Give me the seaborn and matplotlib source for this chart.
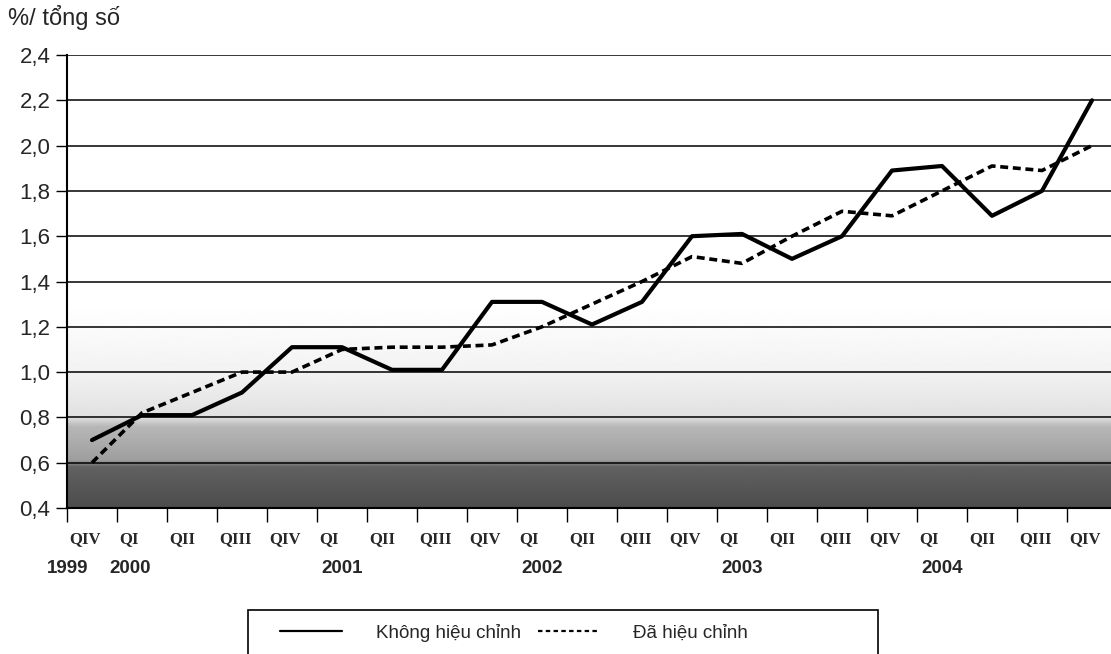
import numpy as np
import pandas as pd
import seaborn as sns
import matplotlib.pyplot as plt
from matplotlib.patches import Rectangle
from matplotlib.lines import Line2D

# Data (quarters QIV 1999 .. QIV 2004)
quarters = ["QIV", "QI", "QII", "QIII"] * 5 + ["QIV"]
years = ["1999", "2000", "2001", "2002", "2003", "2004"]
year_idx = [0, 1, 5, 9, 13, 17]
unadjusted = [0.70, 0.81, 0.81, 0.91, 1.11, 1.11, 1.01, 1.01, 1.31, 1.31, 1.21,
              1.31, 1.60, 1.61, 1.50, 1.60, 1.89, 1.91, 1.69, 1.80, 2.20]
adjusted = [0.60, 0.82, 0.91, 1.00, 1.00, 1.10, 1.11, 1.11, 1.12, 1.20, 1.30,
            1.40, 1.51, 1.48, 1.60, 1.71, 1.69, 1.80, 1.91, 1.89, 2.00]
label_a = "Không hiệu chỉnh"
label_b = "Đã hiệu chỉnh"

df = pd.DataFrame({"x": range(len(quarters)), "a": unadjusted, "b": adjusted})

sns.set_theme(style="white")
plt.rcParams['font.family'] = ['Liberation Sans', 'DejaVu Sans']

fig = plt.figure(figsize=(11.11, 6.54), dpi=100)
ax = fig.add_axes([67 / 1111, 146 / 654, 1050 / 1111, 453 / 654])

# scanned grey band at the bottom of the plot area
gy = np.linspace(0.4, 1.3, 300)
shade = np.interp(gy, [0.4, 0.58, 0.61, 0.76, 0.80, 1.0, 1.3],
                  [0.30, 0.38, 0.62, 0.72, 0.88, 0.95, 1.0])
ax.imshow(shade[:, None], cmap="gray", vmin=0, vmax=1, origin="lower",
          extent=(-0.5, 20.5, 0.4, 1.3), aspect="auto", zorder=0)

for yv in np.arange(0.4, 2.41, 0.2):
    ax.axhline(yv, color="black", lw=1.1, zorder=1)

sns.lineplot(data=df, x="x", y="a", color="black", lw=3.0, ax=ax, zorder=3)
sns.lineplot(data=df, x="x", y="b", color="black", lw=2.6, ax=ax, zorder=3,
             linestyle=(0, (2.2, 1.3)))

ax.set_xlim(-0.5, 20.5)
ax.set_ylim(0.4, 2.4)
ax.set_xlabel("")
ax.set_ylabel("")
for s in ["top", "right"]:
    ax.spines[s].set_visible(False)
for s in ["left", "bottom"]:
    ax.spines[s].set_color("black")
    ax.spines[s].set_linewidth(1.5)

yt = np.arange(0.4, 2.41, 0.2)
ax.set_yticks(yt)
ax.set_yticklabels([f"{v:.1f}".replace(".", ",") for v in yt], fontsize=16)
ax.tick_params(axis="y", length=8, width=1, color="black", pad=4, left=True)

ax.set_xticks(np.arange(-0.5, 21, 1))
ax.set_xticklabels([])
ax.tick_params(axis="x", length=10, width=1, color="black", bottom=True)

for i, q in enumerate(quarters):
    ax.text(i - 0.5 + 0.04, -0.068, q, transform=ax.get_xaxis_transform(),
            ha="left", va="center", fontsize=12, fontweight="bold",
            family="Liberation Serif")
yoff = {0: 0.02, 1: -0.24}
for y, i in zip(years, year_idx):
    ax.text(i + yoff.get(i, 0) - (0.5 if i == 0 else 0), -0.133, y,
            transform=ax.get_xaxis_transform(), ha="center", va="center",
            fontsize=13.5, fontweight="bold")

fig.text(8 / 1111, 1 - 18 / 654, "%/ tổng số", fontsize=17, va="center")

# legend box
fig.patches.append(Rectangle((248 / 1111, -0.05), 630 / 1111, 1 - 610 / 654 + 0.05,
                             transform=fig.transFigure, fill=False,
                             edgecolor="black", lw=1.2))
handles = [Line2D([], [], color="black", lw=1.6),
           Line2D([], [], color="black", lw=1.6, linestyle=(0, (2, 1.5)))]
fig.legend(handles, [label_a, label_b], loc="center left",
           bbox_to_anchor=(280 / 1111, 1 - 633 / 654), ncol=2, frameon=False,
           fontsize=13.5, handlelength=3.3, handletextpad=1.8, columnspacing=0.9,
           borderpad=0, borderaxespad=0)

fig.savefig("out.png", dpi=100)
